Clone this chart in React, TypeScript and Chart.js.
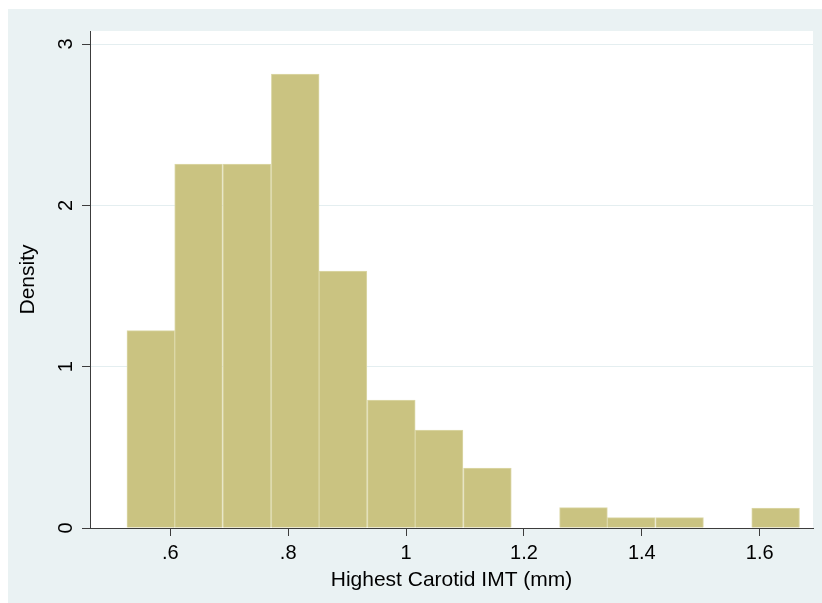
import React, { useEffect, useRef } from "react";
import { Chart, registerables } from "chart.js";

Chart.register(...registerables);

// Histogram bins (centres, mm) and densities
const binCenters = [0.567, 0.648, 0.730, 0.812, 0.893, 0.975, 1.056, 1.138, 1.219, 1.301, 1.382, 1.464, 1.546, 1.627];
const densities = [1.223, 2.256, 2.256, 2.814, 1.593, 0.793, 0.607, 0.372, 0, 0.126, 0.064, 0.064, 0, 0.124];

const xTickValues = [0.6, 0.8, 1.0, 1.2, 1.4, 1.6];
const xTickLabels = [".6", ".8", "1", "1.2", "1.4", "1.6"];
const yTickValues = [0, 1, 2, 3];
const yTickLabels = ["0", "1", "2", "3"];

const X_MIN = 0.4638;
const X_MAX = 1.6904;
const Y_MAX = 3.0806;

const FONT = "'Liberation Sans', Arial, Helvetica, sans-serif";
const OUTER_BG = "#eaf2f3";
const GRID = "#e4eef0";
const AXIS = "#3c3c3c";

const plotBg = {
  id: "plotBg",
  beforeDraw(chart: any) {
    const { ctx, chartArea } = chart;
    if (!chartArea) return;
    ctx.save();
    ctx.fillStyle = "#ffffff";
    ctx.fillRect(chartArea.left, chartArea.top, chartArea.right - chartArea.left, chartArea.bottom - chartArea.top);
    ctx.restore();
  },
};

export default function App() {
  const ref = useRef<HTMLCanvasElement | null>(null);

  useEffect(() => {
    if (!ref.current) return;
    const chart = new Chart(ref.current, {
      type: "bar",
      data: {
        datasets: [
          {
            data: binCenters.map((x, i) => ({ x, y: densities[i] })),
            backgroundColor: "rgb(202,195,129)",
            borderColor: "rgb(220,216,168)",
            borderWidth: 1,
            barPercentage: 1,
            categoryPercentage: 1,
          } as any,
        ],
      },
      plugins: [plotBg],
      options: {
        animation: false,
        responsive: true,
        maintainAspectRatio: false,
        layout: { padding: { left: 0, top: 22, right: 9, bottom: 0 } },
        plugins: {
          legend: { display: false },
          tooltip: { enabled: false },
        },
        scales: {
          x: {
            type: "linear",
            offset: false,
            min: X_MIN,
            max: X_MAX,
            afterBuildTicks: (s: any) => {
              s.ticks = xTickValues.map((v) => ({ value: v }));
            },
            afterFit: (s: any) => {
              s.height = 75;
            },
            ticks: {
              autoSkip: false,
              maxRotation: 0,
              minRotation: 0,
              padding: 5,
              color: "#000",
              font: { family: FONT, size: 20 },
              callback: (_v: any, i: number) => xTickLabels[i],
            },
            grid: {
              display: true,
              offset: false,
              drawOnChartArea: false,
              drawTicks: true,
              tickLength: 8,
              tickColor: AXIS,
            },
            border: { display: true, color: AXIS, width: 1 },
            title: {
              display: true,
              text: "Highest Carotid IMT (mm)",
              color: "#000",
              font: { family: FONT, size: 21 },
              padding: { top: 0, bottom: 10 },
            },
          } as any,
          y: {
            type: "linear",
            min: 0,
            max: Y_MAX,
            afterBuildTicks: (s: any) => {
              s.ticks = yTickValues.map((v) => ({ value: v }));
            },
            afterFit: (s: any) => {
              s.width = 82;
            },
            ticks: {
              autoSkip: false,
              minRotation: 90,
              maxRotation: 90,
              crossAlign: "center",
              padding: 10,
              color: "#000",
              font: { family: FONT, size: 20 },
              callback: (_v: any, i: number) => yTickLabels[i],
            },
            grid: {
              display: true,
              drawOnChartArea: true,
              drawTicks: true,
              tickLength: 8,
              tickColor: AXIS,
              color: (ctx: any) => (ctx.tick && ctx.tick.value === 0 ? "rgba(0,0,0,0)" : GRID),
              lineWidth: 1,
            },
            border: { display: true, color: AXIS, width: 1 },
            title: {
              display: true,
              text: "Density",
              color: "#000",
              font: { family: FONT, size: 21 },
              padding: { top: 8, bottom: 0 },
            },
          } as any,
        },
      },
    });
    return () => chart.destroy();
  }, []);

  return (
    <div
      style={{
        position: "fixed",
        left: 8,
        top: 9,
        width: 814,
        height: 594,
        background: OUTER_BG,
      }}
    >
      <canvas ref={ref} />
    </div>
  );
}
